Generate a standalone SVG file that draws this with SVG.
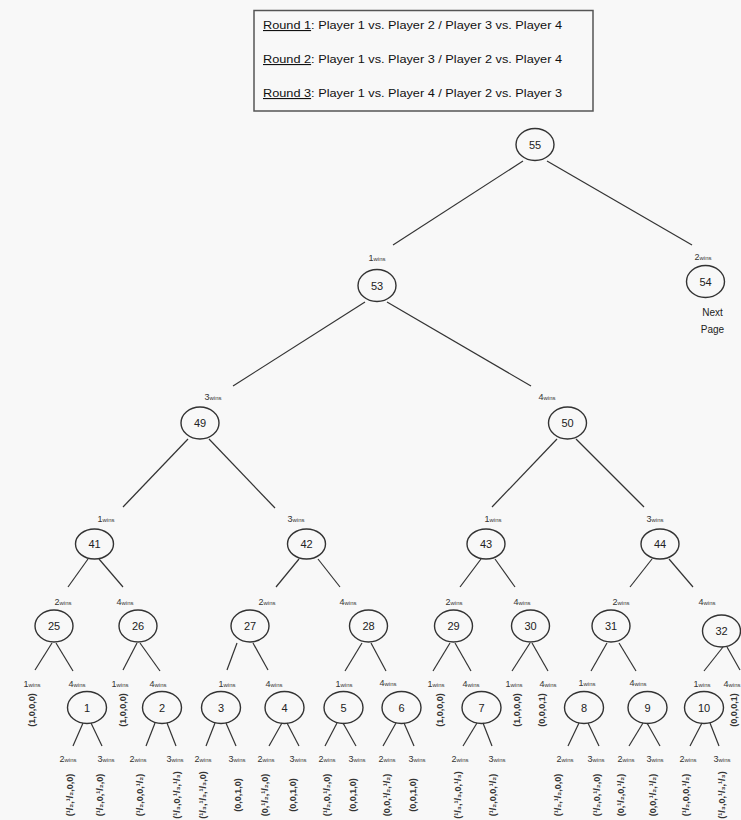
<svg xmlns="http://www.w3.org/2000/svg" width="741" height="820" viewBox="0 0 741 820">
<style>
text{font-family:"Liberation Sans","DejaVu Sans",sans-serif;fill:#222}
.nd ellipse{fill:none;stroke:#333;stroke-width:1.4}
.nd text{font-size:11px;text-anchor:middle}
.w{font-size:6px;text-anchor:middle;fill:#333}
.w .n{font-size:9px}
.lf{font-size:9px;text-anchor:middle;font-weight:bold;fill:#333}
.hd{font-size:11px;fill:#111}
#edges line{stroke:#333;stroke-width:1.2}
</style>
<rect width="741" height="820" fill="#f8f8f8"/>
<g id="legend">
<rect x="254" y="10.5" width="339" height="100.5" fill="none" stroke="#555" stroke-width="1.5"/>
<text class="hd" x="263" y="29" textLength="299" lengthAdjust="spacingAndGlyphs"><tspan text-decoration="underline">Round 1</tspan>: Player 1 vs. Player 2 / Player 3 vs. Player 4</text>
<text class="hd" x="263" y="63" textLength="299" lengthAdjust="spacingAndGlyphs"><tspan text-decoration="underline">Round 2</tspan>: Player 1 vs. Player 3 / Player 2 vs. Player 4</text>
<text class="hd" x="263" y="97" textLength="299" lengthAdjust="spacingAndGlyphs"><tspan text-decoration="underline">Round 3</tspan>: Player 1 vs. Player 4 / Player 2 vs. Player 3</text>
</g>
<g id="edges">
<line x1="523" y1="161" x2="393" y2="245"/>
<line x1="547" y1="161" x2="692" y2="245"/>
<line x1="365" y1="302" x2="233" y2="386"/>
<line x1="387" y1="302" x2="531" y2="386"/>
<line x1="188" y1="439" x2="123" y2="507"/>
<line x1="209" y1="439" x2="275" y2="508"/>
<line x1="557" y1="439" x2="492" y2="507"/>
<line x1="576" y1="439" x2="644" y2="507"/>
<line x1="88" y1="559" x2="68" y2="587"/>
<line x1="99" y1="559" x2="123" y2="587"/>
<line x1="299" y1="559" x2="276" y2="587"/>
<line x1="318" y1="559" x2="340" y2="587"/>
<line x1="481" y1="559" x2="460" y2="587"/>
<line x1="495" y1="559" x2="515" y2="587"/>
<line x1="652" y1="559" x2="630" y2="587"/>
<line x1="669" y1="559" x2="693" y2="587"/>
<line x1="52" y1="643" x2="35" y2="670"/>
<line x1="56" y1="643" x2="73" y2="671"/>
<line x1="137" y1="643" x2="123" y2="670"/>
<line x1="140" y1="643" x2="160" y2="671"/>
<line x1="237" y1="643" x2="227" y2="670"/>
<line x1="253" y1="643" x2="268" y2="670"/>
<line x1="362" y1="643" x2="345" y2="671"/>
<line x1="371" y1="643" x2="386" y2="671"/>
<line x1="450" y1="643" x2="433" y2="671"/>
<line x1="455" y1="643" x2="471" y2="671"/>
<line x1="530" y1="643" x2="512" y2="671"/>
<line x1="532" y1="643" x2="548" y2="671"/>
<line x1="607" y1="643" x2="591" y2="671"/>
<line x1="619" y1="643" x2="636" y2="671"/>
<line x1="723" y1="647" x2="704" y2="671"/>
<line x1="727" y1="647" x2="740" y2="670"/>
<line x1="83" y1="723" x2="73" y2="746"/>
<line x1="91" y1="723" x2="102" y2="746"/>
<line x1="155" y1="723" x2="146" y2="746"/>
<line x1="167" y1="723" x2="176" y2="746"/>
<line x1="215" y1="723" x2="206" y2="746"/>
<line x1="226" y1="723" x2="236" y2="746"/>
<line x1="282" y1="723" x2="269" y2="746"/>
<line x1="287" y1="723" x2="299" y2="746"/>
<line x1="337" y1="723" x2="325" y2="746"/>
<line x1="343" y1="723" x2="356" y2="746"/>
<line x1="396" y1="723" x2="383" y2="746"/>
<line x1="404" y1="723" x2="414" y2="746"/>
<line x1="477" y1="723" x2="463" y2="746"/>
<line x1="483" y1="723" x2="492" y2="746"/>
<line x1="579" y1="723" x2="568" y2="746"/>
<line x1="588" y1="723" x2="599" y2="746"/>
<line x1="643" y1="723" x2="629" y2="746"/>
<line x1="647" y1="723" x2="660" y2="746"/>
<line x1="702" y1="723" x2="690" y2="746"/>
<line x1="710" y1="723" x2="719" y2="746"/>
</g>
<g id="labels">
<text class="w" x="377" y="261"><tspan class="n">1</tspan>wins</text>
<text class="w" x="703" y="260"><tspan class="n">2</tspan>wins</text>
<text class="w" x="213" y="400"><tspan class="n">3</tspan>wins</text>
<text class="w" x="547" y="400"><tspan class="n">4</tspan>wins</text>
<text class="w" x="106" y="522"><tspan class="n">1</tspan>wins</text>
<text class="w" x="296" y="522"><tspan class="n">3</tspan>wins</text>
<text class="w" x="493" y="522"><tspan class="n">1</tspan>wins</text>
<text class="w" x="655" y="522"><tspan class="n">3</tspan>wins</text>
<text class="w" x="63" y="605"><tspan class="n">2</tspan>wins</text>
<text class="w" x="125" y="605"><tspan class="n">4</tspan>wins</text>
<text class="w" x="267" y="605"><tspan class="n">2</tspan>wins</text>
<text class="w" x="348" y="605"><tspan class="n">4</tspan>wins</text>
<text class="w" x="454" y="605"><tspan class="n">2</tspan>wins</text>
<text class="w" x="522" y="605"><tspan class="n">4</tspan>wins</text>
<text class="w" x="621" y="605"><tspan class="n">2</tspan>wins</text>
<text class="w" x="707" y="605"><tspan class="n">4</tspan>wins</text>
<text class="w" x="32" y="687"><tspan class="n">1</tspan>wins</text>
<text class="w" x="77" y="687"><tspan class="n">4</tspan>wins</text>
<text class="w" x="120" y="687"><tspan class="n">1</tspan>wins</text>
<text class="w" x="158" y="687"><tspan class="n">4</tspan>wins</text>
<text class="w" x="227" y="687"><tspan class="n">1</tspan>wins</text>
<text class="w" x="274" y="687"><tspan class="n">4</tspan>wins</text>
<text class="w" x="344" y="687"><tspan class="n">1</tspan>wins</text>
<text class="w" x="388" y="686"><tspan class="n">4</tspan>wins</text>
<text class="w" x="436" y="687"><tspan class="n">1</tspan>wins</text>
<text class="w" x="471" y="687"><tspan class="n">4</tspan>wins</text>
<text class="w" x="514" y="687"><tspan class="n">1</tspan>wins</text>
<text class="w" x="548" y="687"><tspan class="n">4</tspan>wins</text>
<text class="w" x="587" y="686"><tspan class="n">1</tspan>wins</text>
<text class="w" x="638" y="686"><tspan class="n">4</tspan>wins</text>
<text class="w" x="702" y="687"><tspan class="n">1</tspan>wins</text>
<text class="w" x="732" y="687"><tspan class="n">4</tspan>wins</text>
<text class="w" x="68" y="762"><tspan class="n">2</tspan>wins</text>
<text class="w" x="106" y="762"><tspan class="n">3</tspan>wins</text>
<text class="w" x="138" y="762"><tspan class="n">2</tspan>wins</text>
<text class="w" x="175" y="762"><tspan class="n">3</tspan>wins</text>
<text class="w" x="203" y="762"><tspan class="n">2</tspan>wins</text>
<text class="w" x="237" y="762"><tspan class="n">3</tspan>wins</text>
<text class="w" x="266" y="762"><tspan class="n">2</tspan>wins</text>
<text class="w" x="298" y="762"><tspan class="n">3</tspan>wins</text>
<text class="w" x="327" y="762"><tspan class="n">2</tspan>wins</text>
<text class="w" x="357" y="762"><tspan class="n">3</tspan>wins</text>
<text class="w" x="387" y="762"><tspan class="n">2</tspan>wins</text>
<text class="w" x="417" y="762"><tspan class="n">3</tspan>wins</text>
<text class="w" x="460" y="762"><tspan class="n">2</tspan>wins</text>
<text class="w" x="497" y="762"><tspan class="n">3</tspan>wins</text>
<text class="w" x="565" y="762"><tspan class="n">2</tspan>wins</text>
<text class="w" x="596" y="762"><tspan class="n">3</tspan>wins</text>
<text class="w" x="626" y="762"><tspan class="n">2</tspan>wins</text>
<text class="w" x="655" y="762"><tspan class="n">3</tspan>wins</text>
<text class="w" x="688" y="762"><tspan class="n">2</tspan>wins</text>
<text class="w" x="722" y="762"><tspan class="n">3</tspan>wins</text>
</g>
<g id="n55" class="nd"><ellipse cx="535" cy="144.5" rx="19" ry="16"/><text x="535" y="148.5">55</text></g>
<g id="n53" class="nd"><ellipse cx="377" cy="285.5" rx="19" ry="16"/><text x="377" y="289.5">53</text></g>
<g id="n54" class="nd"><ellipse cx="705.5" cy="281.5" rx="19" ry="16"/><text x="705.5" y="285.5">54</text></g>
<g id="next"><text x="712.5" y="316" style="font-size:10px;text-anchor:middle">Next</text><text x="712.5" y="333" style="font-size:10px;text-anchor:middle">Page</text></g>
<g id="n49" class="nd"><ellipse cx="200" cy="423" rx="19" ry="16"/><text x="200" y="427">49</text></g>
<g id="n50" class="nd"><ellipse cx="567.5" cy="423" rx="19" ry="16"/><text x="567.5" y="427">50</text></g>
<g id="n41" class="nd"><ellipse cx="94.5" cy="544" rx="19" ry="15"/><text x="94.5" y="548">41</text></g>
<g id="n42" class="nd"><ellipse cx="306.5" cy="544" rx="19" ry="15"/><text x="306.5" y="548">42</text></g>
<g id="n43" class="nd"><ellipse cx="486" cy="544" rx="19" ry="15"/><text x="486" y="548">43</text></g>
<g id="n44" class="nd"><ellipse cx="660" cy="544" rx="19" ry="15"/><text x="660" y="548">44</text></g>
<g id="n25" class="nd"><ellipse cx="54" cy="626" rx="19" ry="16"/><text x="54" y="630">25</text></g>
<g id="n26" class="nd"><ellipse cx="138" cy="626" rx="19" ry="16"/><text x="138" y="630">26</text></g>
<g id="n27" class="nd"><ellipse cx="250" cy="626" rx="19" ry="16"/><text x="250" y="630">27</text></g>
<g id="n28" class="nd"><ellipse cx="368.5" cy="626" rx="19" ry="16"/><text x="368.5" y="630">28</text></g>
<g id="n29" class="nd"><ellipse cx="453.5" cy="626" rx="19" ry="16"/><text x="453.5" y="630">29</text></g>
<g id="n30" class="nd"><ellipse cx="530.5" cy="626" rx="19" ry="16"/><text x="530.5" y="630">30</text></g>
<g id="n31" class="nd"><ellipse cx="611" cy="626" rx="19" ry="16"/><text x="611" y="630">31</text></g>
<g id="n32" class="nd"><ellipse cx="721.5" cy="631" rx="19" ry="16"/><text x="721.5" y="635">32</text></g>
<g id="n1" class="nd"><ellipse cx="87" cy="707.5" rx="19.5" ry="16"/><text x="87" y="711.5">1</text></g>
<g id="n2" class="nd"><ellipse cx="162" cy="707.5" rx="19.5" ry="16"/><text x="162" y="711.5">2</text></g>
<g id="n3" class="nd"><ellipse cx="221" cy="707.5" rx="19.5" ry="16"/><text x="221" y="711.5">3</text></g>
<g id="n4" class="nd"><ellipse cx="284.5" cy="707.5" rx="19.5" ry="16"/><text x="284.5" y="711.5">4</text></g>
<g id="n5" class="nd"><ellipse cx="343.5" cy="707.5" rx="19.5" ry="16"/><text x="343.5" y="711.5">5</text></g>
<g id="n6" class="nd"><ellipse cx="401.5" cy="707.5" rx="19.5" ry="16"/><text x="401.5" y="711.5">6</text></g>
<g id="n7" class="nd"><ellipse cx="481.5" cy="707.5" rx="19.5" ry="16"/><text x="481.5" y="711.5">7</text></g>
<g id="n8" class="nd"><ellipse cx="584" cy="707.5" rx="19.5" ry="16"/><text x="584" y="711.5">8</text></g>
<g id="n9" class="nd"><ellipse cx="647.5" cy="707.5" rx="19.5" ry="16"/><text x="647.5" y="711.5">9</text></g>
<g id="n10" class="nd"><ellipse cx="704" cy="707.5" rx="19.5" ry="16"/><text x="704" y="711.5">10</text></g>
<g id="leaves">
<text class="lf" transform="translate(35,710) rotate(-90)">(1,0,0,0)</text>
<text class="lf" transform="translate(126,710) rotate(-90)">(1,0,0,0)</text>
<text class="lf" transform="translate(443,710) rotate(-90)">(1,0,0,0)</text>
<text class="lf" transform="translate(520,710) rotate(-90)">(1,0,0,0)</text>
<text class="lf" transform="translate(545,710) rotate(-90)">(0,0,0,1)</text>
<text class="lf" transform="translate(737,710) rotate(-90)">(0,0,0,1)</text>
<text class="lf" transform="translate(73,795) rotate(-90)">(¹/₂,¹/₂,0,0)</text>
<text class="lf" transform="translate(103,795) rotate(-90)">(¹/₂,0,¹/₂,0)</text>
<text class="lf" transform="translate(143,795) rotate(-90)">(¹/₂,0,0,¹/₂)</text>
<text class="lf" transform="translate(180,795) rotate(-90)">(¹/₃,0,¹/₃,¹/₃)</text>
<text class="lf" transform="translate(206,795) rotate(-90)">(¹/₃,¹/₃,¹/₃,0)</text>
<text class="lf" transform="translate(241,795) rotate(-90)">(0,0,1,0)</text>
<text class="lf" transform="translate(268,795) rotate(-90)">(0,¹/₂,¹/₂,0)</text>
<text class="lf" transform="translate(296,795) rotate(-90)">(0,0,1,0)</text>
<text class="lf" transform="translate(330,795) rotate(-90)">(¹/₂,0,¹/₂,0)</text>
<text class="lf" transform="translate(356,795) rotate(-90)">(0,0,1,0)</text>
<text class="lf" transform="translate(390,795) rotate(-90)">(0,0,¹/₂,¹/₂)</text>
<text class="lf" transform="translate(416,795) rotate(-90)">(0,0,1,0)</text>
<text class="lf" transform="translate(461,795) rotate(-90)">(¹/₃,¹/₃,0,¹/₃)</text>
<text class="lf" transform="translate(496,795) rotate(-90)">(¹/₂,0,0,¹/₂)</text>
<text class="lf" transform="translate(561,795) rotate(-90)">(¹/₂,¹/₂,0,0)</text>
<text class="lf" transform="translate(600,795) rotate(-90)">(¹/₂,0,¹/₂,0)</text>
<text class="lf" transform="translate(624,795) rotate(-90)">(0,¹/₂,0,¹/₂)</text>
<text class="lf" transform="translate(656,795) rotate(-90)">(0,0,¹/₂,¹/₂)</text>
<text class="lf" transform="translate(689,795) rotate(-90)">(¹/₂,0,0,¹/₂)</text>
<text class="lf" transform="translate(725,795) rotate(-90)">(¹/₃,0,¹/₃,¹/₃)</text>
</g>
</svg>
